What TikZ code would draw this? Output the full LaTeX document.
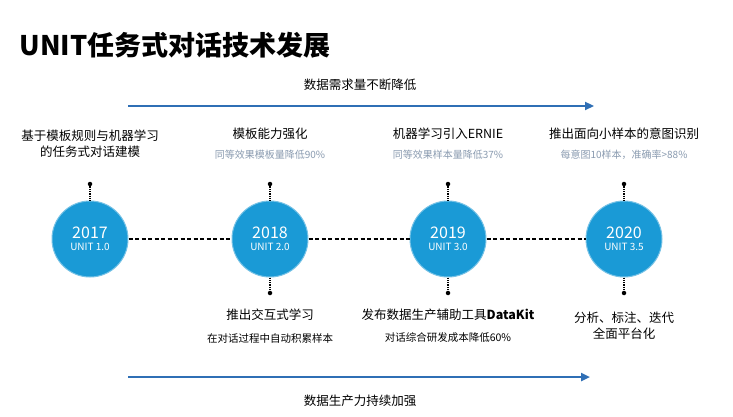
\documentclass[tikz,border=0pt]{standalone}
\usepackage{fontspec}
\setmainfont{Noto Sans CJK SC}
\usetikzlibrary{arrows.meta}
\definecolor{cblue}{HTML}{1A9AD6}
\definecolor{ablue}{HTML}{2F6FB5}
\definecolor{sub}{HTML}{8A9BB0}
\tikzset{
 yr/.style={circle,fill=cblue,draw=cblue!60!white,line width=1pt,minimum size=76pt,inner sep=0pt,text=white,align=center,font=\fontsize{10}{12}\selectfont},
 main/.style={font=\fontsize{12.5}{16}\selectfont,align=center},
 subt/.style={font=\fontsize{10}{12}\selectfont,text=sub},
 dot/.style={circle,fill=black,inner sep=0pt,minimum size=4.5pt},
 conn/.style={densely dotted,line width=1.3pt},
 bigarrow/.style={ablue,line width=2.5pt,-{Triangle[length=9pt,width=8pt]}}
}
\begin{document}
\begin{tikzpicture}[x=1pt,y=-1pt]
\useasboundingbox[fill=white] (0,0) rectangle (733,417);
\node[anchor=west,font=\fontsize{27}{30}\selectfont\bfseries] (title) at (16,45) {UNIT任务式对话技术发展};
\coordinate (a1) at (128,106); \coordinate (a2) at (594,106);
\draw[bigarrow] (a1) -- (a2);
\node[main] (t1) at (360,85) {数据需求量不断降低};
\coordinate (b1) at (128,377); \coordinate (b2) at (590,377);
\draw[bigarrow] (b1) -- (b2);
\node[main] (t2) at (360,401) {数据生产力持续加强};
\node[yr] (c1) at (90,239) {{\fontsize{16}{18}\selectfont 2017}\\UNIT 1.0};
\node[yr] (c2) at (270,239) {{\fontsize{16}{18}\selectfont 2018}\\UNIT 2.0};
\node[yr] (c3) at (448,239) {{\fontsize{16}{18}\selectfont 2019}\\UNIT 3.0};
\node[yr] (c4) at (624,239) {{\fontsize{16}{18}\selectfont 2020}\\UNIT 3.5};
\draw[dash pattern=on 4pt off 2.5pt,line width=1.3pt] (c1) -- (c2) (c2) -- (c3) (c3) -- (c4);
\node[dot] (d1) at (90,184) {}; \node[dot] (d2) at (270,184) {};
\node[dot] (d3) at (448,184) {}; \node[dot] (d4) at (624,184) {};
\node[dot] (e2) at (270,293) {}; \node[dot] (e3) at (448,293) {};
\node[dot] (e4) at (624,293) {};
\foreach \i in {1,2,3,4} \draw[conn] (d\i) -- (c\i);
\foreach \i in {2,3,4} \draw[conn] (c\i) -- (e\i);
\node[main] (l1) at (90,144) {基于模板规则与机器学习\\的任务式对话建模};
\node[main] (l2) at (270,134) {模板能力强化};
\node[subt] (s2) at (270,155) {同等效果模板量降低90\%};
\node[main] (l3) at (448,134) {机器学习引入ERNIE};
\node[subt] (s3) at (448,155) {同等效果样本量降低37\%};
\node[main] (l4) at (624,134) {推出面向小样本的意图识别};
\node[subt] (s4) at (624,155) {每意图10样本，准确率>88\%};
\node[main] (m2) at (270,315) {推出交互式学习};
\node[font=\fontsize{10.5}{12}\selectfont] (n2) at (270,338) {在对话过程中自动积累样本};
\node[main] (m3) at (448,315) {发布数据生产辅助工具\textbf{DataKit}};
\node[font=\fontsize{10.5}{12}\selectfont] (n3) at (448,338) {对话综合研发成本降低60\%};
\node[main] (m4) at (624,326) {分析、标注、迭代\\全面平台化};
\end{tikzpicture}
\end{document}
